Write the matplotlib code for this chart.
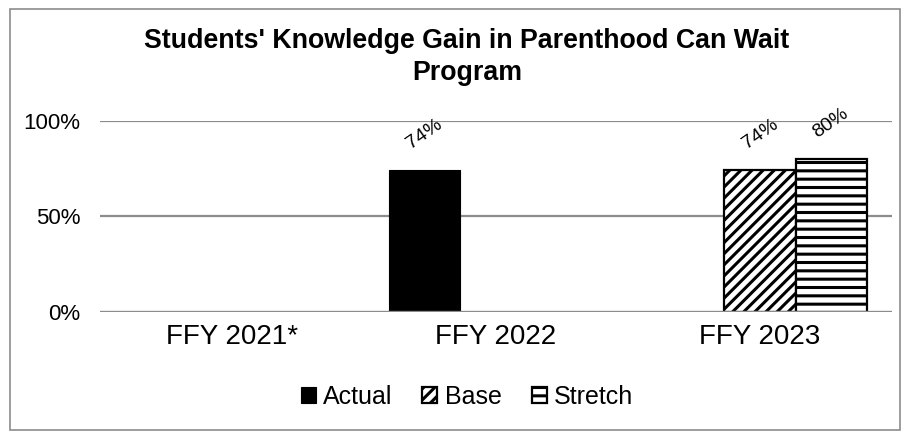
import matplotlib
matplotlib.use("Agg")
import matplotlib.pyplot as plt
import matplotlib.patches as mpatches
import numpy as np

# chart data
categories = ["FFY 2021*", "FFY 2022", "FFY 2023"]
actual = [np.nan, 0.74, np.nan]
base = [np.nan, np.nan, 0.74]
stretch = [np.nan, np.nan, 0.80]
y_ticks = [0, 0.5, 1.0]
y_tick_labels = ["0%", "50%", "100%"]
title = "Students' Knowledge Gain in Parenthood Can Wait\nProgram"

plt.rcParams['font.family'] = ['Liberation Sans', 'DejaVu Sans']
plt.rcParams['hatch.linewidth'] = 2.2

W, H = 909, 432
fig = plt.figure(figsize=(W / 100, H / 100), dpi=100)
ax = fig.add_axes([100 / W, (H - 312) / H, 792 / W, 191.3 / H])

x = np.arange(len(categories))
bw = 0.269
grid_col = '#8c8c8c'

for yv in y_ticks[1:]:
    ax.axhline(yv, color=grid_col, lw=1.6, zorder=0)

ax.bar(x - bw, actual, bw, color='black', edgecolor='black', lw=0.8, zorder=2, label='Actual')
ax.bar(x, base, bw, color='white', edgecolor='black', hatch='///', lw=1.6, zorder=2, label='Base')
ax.bar(x + bw, stretch, bw, color='white', edgecolor='black', hatch='--', lw=1.6, zorder=2, label='Stretch')

# rotated data labels
for off, vals in [(-bw, actual), (0, base), (bw, stretch)]:
    for xi, v in zip(x, vals):
        if np.isnan(v):
            continue
        ax.annotate(f"{v:.0%}", (xi + off, v), xytext=(0, 26), textcoords='offset points',
                    ha='center', va='center', rotation=35, rotation_mode='anchor',
                    fontsize=14, color='black', annotation_clip=False)

ax.axhline(0, color=grid_col, lw=2.4, zorder=3)
ax.set_xlim(-0.5, 2.5)
ax.set_ylim(0, 1)
ax.set_yticks(y_ticks)
ax.set_yticklabels(y_tick_labels, fontsize=16)
ax.set_xticks(x)
ax.set_xticklabels(categories, fontsize=20)
ax.tick_params(axis='both', length=0)
ax.tick_params(axis='x', pad=9)
ax.tick_params(axis='y', pad=14)
for s in ax.spines.values():
    s.set_visible(False)

fig.text(467 / W, 1 - 57.5 / H, title, ha='center', va='center', fontsize=19.3,
         fontweight='bold', linespacing=1.3)

fig.legend(loc='center', bbox_to_anchor=(467 / W, 1 - 397 / H), ncol=3, frameon=False,
           fontsize=18, handlelength=0.6, handleheight=0.6, handletextpad=0.3,
           columnspacing=1.2)

# outer chart border
fig.patches.append(mpatches.Rectangle((10 / W, 2 / H), 890 / W, 421 / H, transform=fig.transFigure,
                                      fill=False, edgecolor='#8c8c8c', lw=1.2))

fig.savefig("out.png", dpi=100)
